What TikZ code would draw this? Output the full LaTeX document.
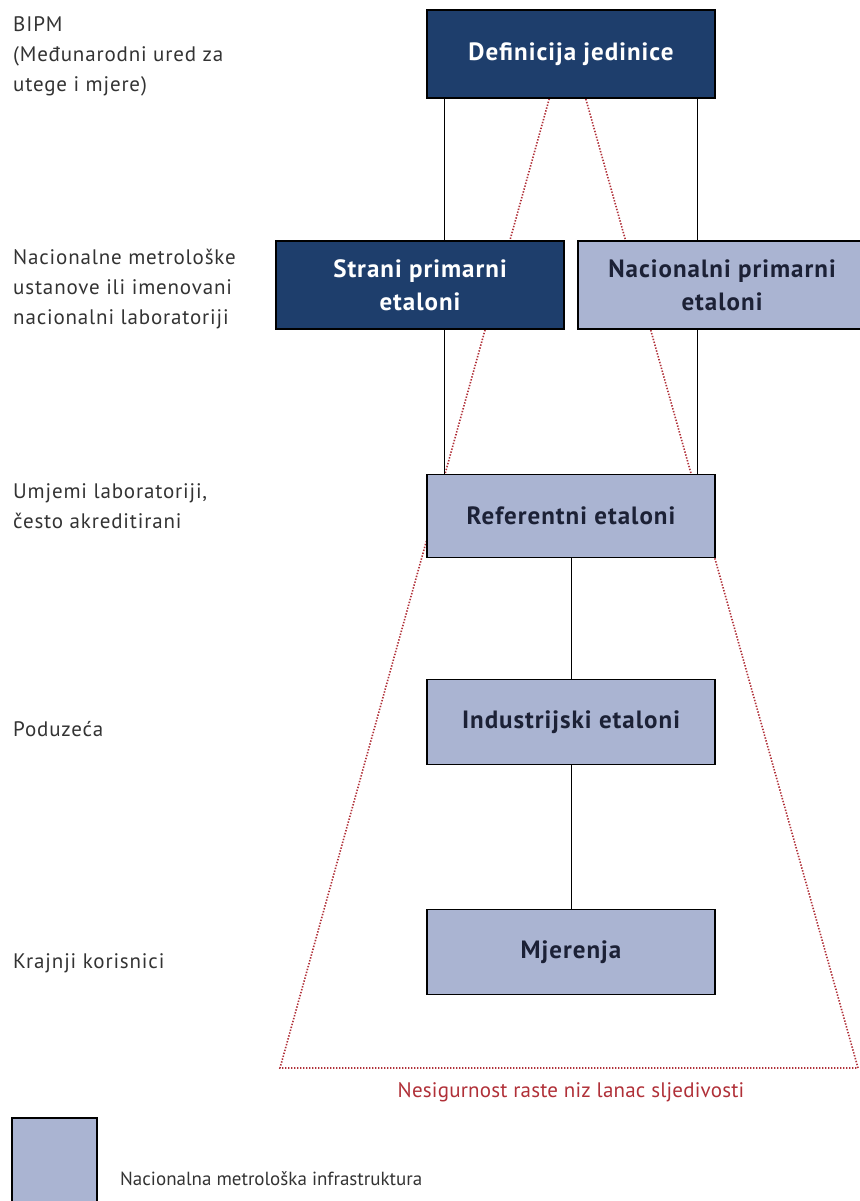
\documentclass[tikz,border=0pt]{standalone}
\usepackage{fontspec}
\setmainfont{PT Sans}
\usetikzlibrary{calc,backgrounds}
\definecolor{darkbox}{HTML}{1E3E6C}
\definecolor{lightbox}{HTML}{AAB4D2}
\definecolor{boxtext}{HTML}{1C2136}
\definecolor{chainred}{HTML}{B03038}
\definecolor{labelgray}{HTML}{333333}

\begin{document}
\begin{tikzpicture}[x=1pt,y=-1pt]
%styles
\tikzstyle{darkBox}=[rectangle, draw=black, line width=1.5pt, fill=darkbox, text=white, font=\fontsize{25}{33}\selectfont\bfseries\addfontfeatures{LetterSpace=4}, align=center, minimum width=288pt, minimum height=88pt, inner sep=0pt]
\tikzstyle{lightBox}=[darkBox, fill=lightbox, text=boxtext]
\tikzstyle{textLeft}=[anchor=base west, text=labelgray, align=left, font=\fontsize{21}{30}\selectfont\addfontfeatures{LetterSpace=4}, inner sep=0pt]
\tikzstyle{link}=[line width=0.8pt]
\tikzstyle{chain}=[chainred, line width=1.6pt, dash pattern=on 1.4pt off 1.6pt]
%figure
\useasboundingbox (0,0) rectangle (859,1201);

\node[darkBox] (def) at (571,54) {Definicija jedinice};
\node[darkBox] (strani) at (420,285) {Strani primarni\\etaloni};
\node[lightBox] (nacional) at (722,285) {Nacionalni primarni\\etaloni};
\node[lightBox, minimum height=83pt] (ref) at (571,516) {Referentni etaloni};
\node[lightBox, minimum height=85pt] (ind) at (571,722) {Industrijski etaloni};
\node[lightBox, minimum height=85pt] (mj) at (571,952) {Mjerenja};

%text
\node[textLeft] (bipm) at (13,92) {BIPM\\(Međunarodni ured za\\utege i mjere)};
\node[textLeft] (nmi) at (13,324) {Nacionalne metrološke\\ustanove ili imenovani\\nacionalni laboratoriji};
\node[textLeft] (lab) at (13,528) {Umjemi laboratoriji,\\često akreditirani};
\node[textLeft] (pod) at (13,736) {Poduzeća};
\node[textLeft] (kor) at (13,968) {Krajnji korisnici};

%linije
\coordinate (l1) at ([xshift=18]def.south west);
\coordinate (r1) at ([xshift=-18]def.south east);
\draw[link] (l1) -- (l1 |- strani.north);
\draw[link] (r1) -- (r1 |- nacional.north);
\draw[link] (l1 |- strani.south) -- (l1 |- ref.north);
\draw[link] (r1 |- nacional.south) -- (r1 |- ref.north);
\draw[link] (ref.south) -- (ind.north);
\draw[link] (ind.south) -- (mj.north);

%lanac
\coordinate (cl) at ([xshift=123]def.south west);
\coordinate (cr) at ([xshift=-130]def.south east);
\coordinate (bl) at (280,1068);
\coordinate (br) at (858,1068);
\begin{scope}[on background layer]
\draw[chain] (cl) -- (bl) -- (br) -- (cr);
\end{scope}
\node[text=chainred, font=\fontsize{21}{24}\selectfont\addfontfeatures{LetterSpace=1}, inner sep=0pt] (nesig) at (571,1092) {Nesigurnost raste niz lanac sljedivosti};

%legenda
\node[rectangle, draw=black, line width=1.5pt, fill=lightbox, minimum width=85pt, minimum height=88pt, inner sep=0pt] (leg) at (54.5,1162) {};
\node[textLeft, font=\fontsize{19}{24}\selectfont] (legtext) at (120,1185) {Nacionalna metrološka infrastruktura};
\end{tikzpicture}
\end{document}
